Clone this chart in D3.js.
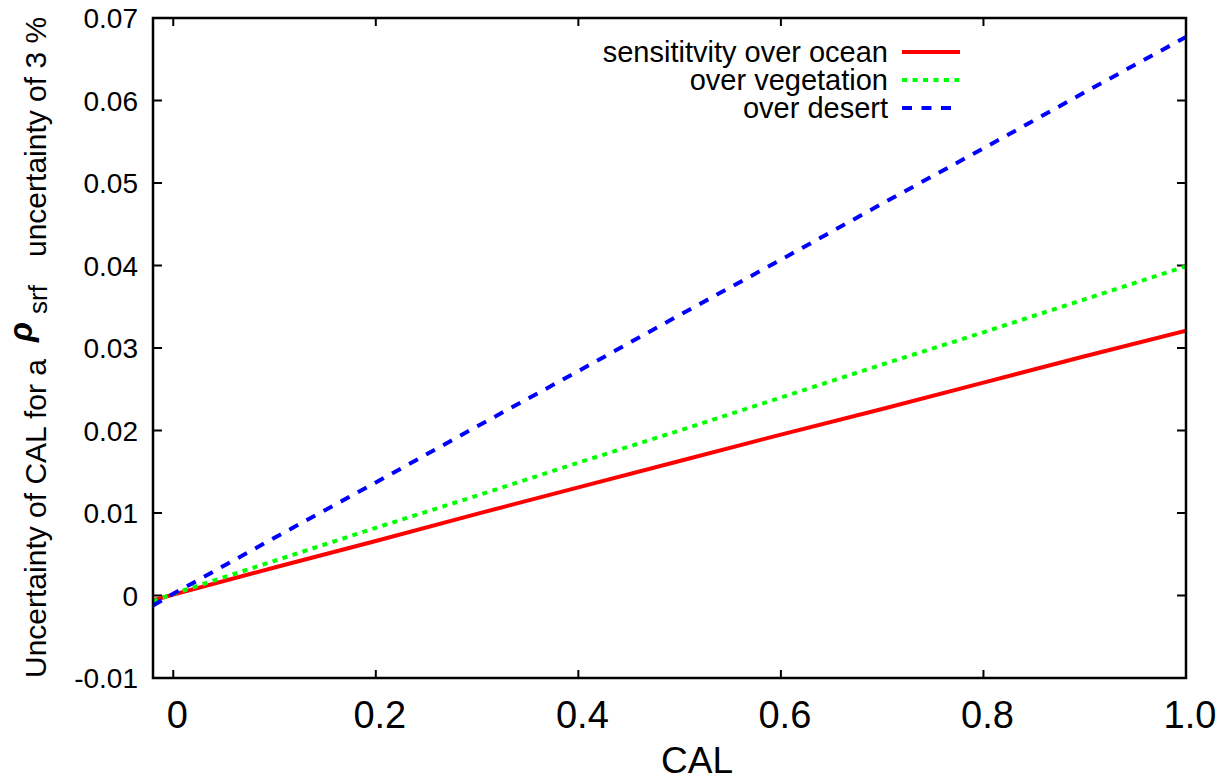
<!DOCTYPE html>
<html>
<head>
<meta charset="utf-8">
<script src="https://cdn.jsdelivr.net/npm/d3@7"></script>
<style>
  body { margin: 0; background: #fff; }
  text { font-family: "Liberation Sans", Arial, sans-serif; fill: #000; }
</style>
</head>
<body>
<div id="vis"></div>
<script>
// values
const cal = [-0.02, 0, 0.1, 0.2, 0.3, 0.4, 0.5, 0.6, 0.7, 0.8, 0.9, 1.0]
const ocean = [-0.0006, 0.0001, 0.0034, 0.0066, 0.0099, 0.0131, 0.0163, 0.0195, 0.0226, 0.0258, 0.0290, 0.0321]
const vegetation = [-0.0007, 0.0002, 0.0042, 0.0082, 0.0121, 0.0161, 0.0200, 0.0240, 0.0280, 0.0319, 0.0359, 0.0399]
const desert = [-0.0012, 0.0002, 0.0070, 0.0137, 0.0205, 0.0272, 0.0340, 0.0407, 0.0475, 0.0542, 0.0610, 0.0677]

const seriesNames = ['sensititvity over ocean', 'over vegetation', 'over desert']
const xTicks = [0, 0.2, 0.4, 0.6, 0.8, 1.0]
const xTickLabels = ['0', '0.2', '0.4', '0.6', '0.8', '1.0']
const yTicks = [-0.01, 0, 0.01, 0.02, 0.03, 0.04, 0.05, 0.06, 0.07]
const yTickLabels = ['-0.01', '0', '0.01', '0.02', '0.03', '0.04', '0.05', '0.06', '0.07']

const margin = {left: 153, top: 18, right: 37, bottom: 104}
const W = 1223, H = 782
const width = W - margin.left - margin.right
const height = H - margin.top - margin.bottom

const styles = [
    {color: '#ff0000', dash: null},
    {color: '#00ff00', dash: '5,5.5'},
    {color: '#0000ff', dash: '10,9.5'}
]
const series = [ocean, vegetation, desert].map((vals, k) => ({
    name: seriesNames[k],
    style: styles[k],
    points: cal.map((c, i) => ({x: c, y: vals[i]}))
}))

let svg = d3.select('#vis').append('svg')
    .attr('width', W)
    .attr('height', H)

let x = d3.scaleLinear().domain([-0.02, 1.0]).range([margin.left, margin.left + width])
let y = d3.scaleLinear().domain([-0.01, 0.07]).range([margin.top + height, margin.top])

svg.append('clipPath').attr('id', 'plotclip')
    .append('rect')
    .attr('x', margin.left).attr('y', margin.top)
    .attr('width', width).attr('height', height)

// ticks (inward, mirrored on all sides)
let ticks = svg.append('g').attr('stroke', '#000').attr('stroke-width', 2)
xTicks.forEach(t => {
    ticks.append('line').attr('x1', x(t)).attr('x2', x(t))
        .attr('y1', margin.top + height).attr('y2', margin.top + height - 8)
    ticks.append('line').attr('x1', x(t)).attr('x2', x(t))
        .attr('y1', margin.top).attr('y2', margin.top + 8)
})
yTicks.forEach(t => {
    ticks.append('line').attr('x1', margin.left).attr('x2', margin.left + 9)
        .attr('y1', y(t)).attr('y2', y(t))
    ticks.append('line').attr('x1', margin.left + width).attr('x2', margin.left + width - 9)
        .attr('y1', y(t)).attr('y2', y(t))
})

// tick labels
svg.append('g').selectAll('text')
    .data(yTicks)
    .enter().append('text')
    .attr('x', 138)
    .attr('y', d => y(d))
    .attr('dy', '0.36em')
    .attr('text-anchor', 'end')
    .style('font-size', '28px')
    .text((d, i) => yTickLabels[i])

svg.append('g').selectAll('text')
    .data(xTicks)
    .enter().append('text')
    .attr('x', d => x(d) + 4)
    .attr('y', 728)
    .attr('text-anchor', 'middle')
    .style('font-size', '38px')
    .text((d, i) => xTickLabels[i])

// axis titles
svg.append('text')
    .attr('x', 697)
    .attr('y', 773)
    .attr('text-anchor', 'middle')
    .style('font-size', '37px')
    .text('CAL')

let ylab = svg.append('text')
    .attr('transform', 'translate(46,678) rotate(-90)')
    .style('font-size', '30px')
ylab.append('tspan').attr('x', 0).attr('y', 0).text('Uncertainty of CAL for a')
ylab.append('tspan').attr('x', 336).attr('y', -14)
    .style('font-size', '33px').style('font-weight', 'bold').style('font-style', 'italic')
    .text('ρ')
ylab.append('tspan').attr('x', 364).attr('y', 1)
    .style('font-size', '26px')
    .text('srf')
ylab.append('tspan').attr('x', 421).attr('y', 0).text('uncertainty of 3 %')

// lines
let line = d3.line().x(d => x(d.x)).y(d => y(d.y))

svg.append('g').attr('clip-path', 'url(#plotclip)')
    .selectAll('path')
    .data(series)
    .enter().append('path')
    .attr('d', d => line(d.points))
    .attr('fill', 'none')
    .attr('stroke', d => d.style.color)
    .attr('stroke-width', 4)
    .attr('stroke-dasharray', d => d.style.dash)

// border
svg.append('rect')
    .attr('x', margin.left).attr('y', margin.top)
    .attr('width', width).attr('height', height)
    .attr('fill', 'none')
    .attr('stroke', '#000')
    .attr('stroke-width', 2.5)

// legend
let legend = svg.append('g')
series.forEach((s, i) => {
    let ly = 52 + i * 28
    legend.append('text')
        .attr('x', 888)
        .attr('y', ly + 10)
        .attr('text-anchor', 'end')
        .style('font-size', '29px')
        .text(s.name)
    legend.append('line')
        .attr('x1', 902).attr('x2', 960)
        .attr('y1', ly).attr('y2', ly)
        .attr('stroke', s.style.color)
        .attr('stroke-width', 4)
        .attr('stroke-dasharray', s.style.dash)
})
</script>
</body>
</html>
